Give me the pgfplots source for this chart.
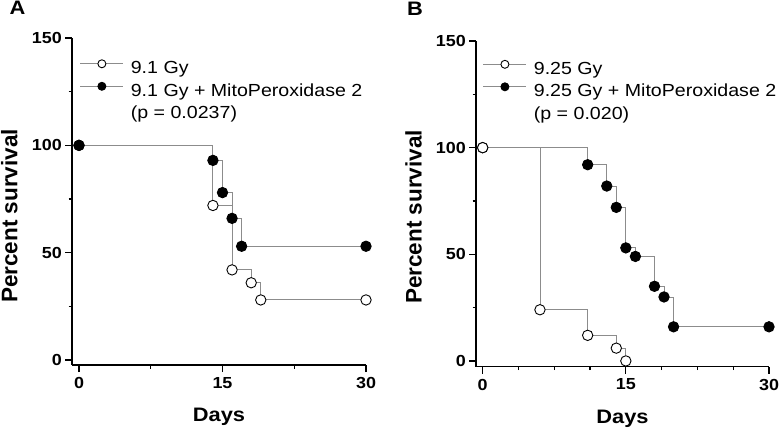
\documentclass[border=0pt]{standalone}
\usepackage{fontspec}
\setmainfont{Liberation Sans}
\newfontfamily\sx{Liberation Sans}[FakeStretch=1.12]
\usepackage{pgfplots}
\pgfplotsset{compat=1.18}
\definecolor{lg}{rgb}{0.55,0.55,0.55}
\pgfplotsset{
  km/.style={
    scale only axis, clip=false,
    axis x line*=bottom, axis y line*=left,
    axis line style={-, line width=1.3bp, black},
    tick align=outside,
    major tick length=7bp, minor tick length=3.5bp,
    every tick/.style={black, line width=1.2bp},
    ytick={0,50,100,150}, xtick={0,15,30},
    minor y tick num=1,
    /pgf/number format/assume math mode=true,
    ticklabel style={font=\sx\bfseries\fontsize{16bp}{18bp}\selectfont},
    yticklabel style={inner sep=0pt, xshift=-3bp},
    xticklabel style={inner sep=0pt, yshift=-5bp},
    ymin=-2.5, ymax=150, xmax=30,
    xlabel={Days}, ylabel={Percent survival},
    xlabel style={font=\sx\bfseries\fontsize{19.5bp}{22bp}\selectfont, anchor=base, at={(axis description cs:0.5,-0.174)}},
    ylabel style={font=\bfseries\fontsize{22.5bp}{24bp}\selectfont, anchor=center, rotate=0},
    legend style={draw=none, fill=none, inner sep=0pt, outer sep=0pt,
      font=\sx\fontsize{17.5bp}{20bp}\selectfont,
      nodes={inner sep=0pt, text height=16bp, text depth=6.5bp},
      column sep=7bp, row sep=0pt},
    legend cell align=left,
    legend image code/.code={
      \draw[#1, mark=none] (0bp,5bp) -- (43bp,5bp);
      \path[#1, mark size=4bp] plot coordinates {(21.5bp,5bp)};
    },
  },
  openc/.style={const plot mark left, lg, line width=0.9bp, mark=*, mark size=5.2bp,
    mark options={draw=black, fill=white, line width=0.9bp}},
  fillc/.style={const plot mark left, lg, line width=0.9bp, mark=*, mark size=5.2bp,
    mark options={draw=black, fill=black, line width=0.9bp}},
}
\begin{document}
\begin{tikzpicture}
\path[use as bounding box] (0,0) rectangle (779bp,431bp);
\begin{axis}[km, at={(72bp,66bp)}, anchor=south west,
  width=294bp, height=327bp, xmin=-0.73, ymin=-2.3,
  minor x tick num=1,
  ylabel style={at={(axis description cs:-0.213,0.456)}},
  legend style={at={(axis cs:0.1,140.9)}, anchor=north west}]
\addplot[openc, forget plot] coordinates {(0,100) (14,72) (16,42) (18,36) (19,28) (30,28)};
\addplot[fillc, forget plot] coordinates {(0,100) (14,93) (15,78) (16,66) (17,53) (30,53)};
\addlegendimage{openc}\addlegendentry{9.1 Gy}
\addlegendimage{fillc}\addlegendentry{9.1 Gy + MitoPeroxidase 2}
\addlegendimage{empty legend}\addlegendentry{(p = 0.0237)}
\end{axis}
\begin{axis}[km, at={(476bp,64.3bp)}, anchor=south west,
  width=293bp, height=325.7bp, xmin=-0.7, ymin=-2.7,
  minor x tick num=3,
  ylabel style={at={(axis description cs:-0.213,0.46)}},
  legend style={at={(axis cs:0.03,142.0)}, anchor=north west}]
\addplot[fillc, forget plot] coordinates {(0,100) (11,92) (13,82) (14,72) (15,53) (16,49) (18,35) (19,30) (20,16) (30,16)};
\addplot[openc, forget plot] coordinates {(0,100) (6,24) (11,12) (14,6) (15,0)};
\addlegendimage{openc}\addlegendentry{9.25 Gy}
\addlegendimage{fillc}\addlegendentry{9.25 Gy + MitoPeroxidase 2}
\addlegendimage{empty legend}\addlegendentry{(p = 0.020)}
\end{axis}
\node[font=\sx\bfseries\fontsize{19.5bp}{22bp}\selectfont, anchor=base] at (17.5bp,416bp) {A};
\node[font=\sx\bfseries\fontsize{19.5bp}{22bp}\selectfont, anchor=base] at (415bp,415bp) {B};
\end{tikzpicture}
\end{document}
